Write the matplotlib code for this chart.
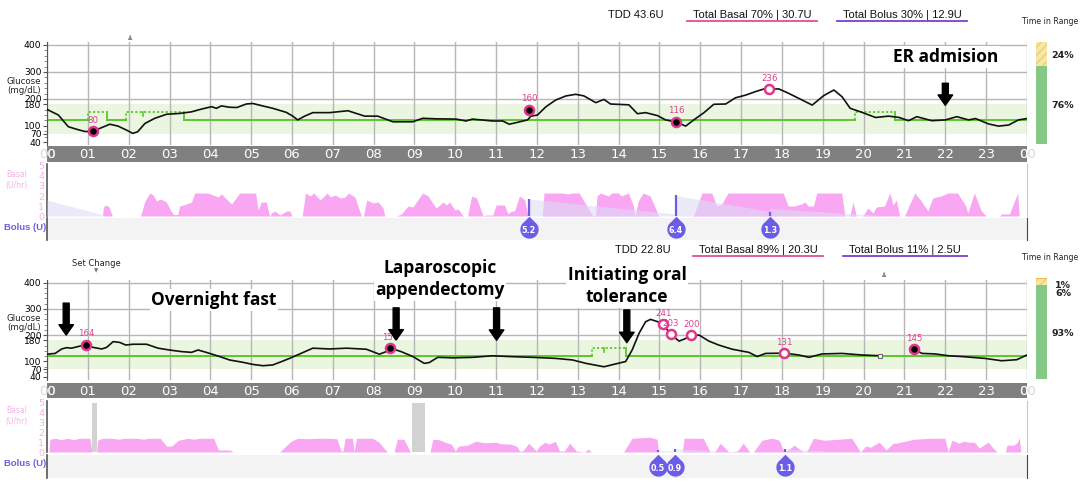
import numpy as np
import matplotlib.pyplot as plt
from matplotlib.path import Path
from matplotlib.lines import Line2D

# ---------------- data: day 1 (top) ----------------
day1_hours = [0.0, 0.28, 0.52, 0.73, 0.93, 1.13, 1.3, 1.54, 1.74, 1.95, 2.1, 2.22, 2.4, 2.64, 2.93,
              3.25, 3.54, 3.78, 4.03, 4.15, 4.27, 4.47, 4.65, 4.88, 5.04, 5.28, 5.53, 5.86, 6.02,
              6.14, 6.31, 6.51, 6.92, 7.37, 7.78, 8.1, 8.47, 8.96, 9.2, 9.53, 10.02, 10.26, 10.42,
              10.91, 11.16, 11.32, 11.52, 11.77, 11.85, 12.01, 12.22, 12.46, 12.71, 12.95, 13.15,
              13.44, 13.64, 13.8, 14.25, 14.46, 14.66, 14.95, 15.15, 15.41, 15.64, 15.84, 16.09,
              16.33, 16.62, 16.86, 17.11, 17.35, 17.56, 17.69, 17.92, 18.13, 18.41, 18.74, 19.02,
              19.27, 19.47, 19.67, 19.96, 20.29, 20.61, 20.87, 21.1, 21.3, 21.67, 22.0, 22.28,
              22.57, 22.74, 23.06, 23.3, 23.55, 23.79, 24.0]
day1_glucose = [161, 140, 97, 87, 79, 79, 91, 106, 99, 84, 72, 78, 109, 128, 143,
                146, 152, 162, 171, 165, 174, 169, 168, 181, 183, 174, 165, 150, 136,
                122, 136, 149, 149, 156, 136, 136, 115, 115, 128, 126, 125, 118, 125,
                118, 118, 106, 113, 122, 136, 140, 171, 196, 211, 217, 211,
                186, 198, 181, 178, 145, 149, 138, 122, 114, 99, 122, 149,
                180, 181, 204, 214, 227, 237, 236, 237, 223, 202, 177, 212,
                233, 208, 165, 150, 131, 136, 131, 119, 134, 119, 122, 134,
                122, 127, 107, 99, 103, 122, 127]
day1_readings = [(1.13, 80, True), (11.8, 160, True), (15.41, 116, True), (17.69, 236, False)]
day1_temp_target = [(1.0, 1.47), (1.93, 3.35), (19.78, 20.76)]
day1_target_ticks = [2.35]

day1_basal_h = [0, 1.36, 1.38, 1.45, 1.52, 1.6, 2.29, 2.4, 2.52, 2.6, 2.68, 2.78, 2.92, 3.05, 3.1,
                3.2, 3.25, 3.42, 3.54, 3.62, 3.94, 4.07, 4.19, 4.27, 4.52, 4.72, 5.11, 5.17, 5.25,
                5.37, 5.45, 5.5, 5.58, 5.7, 5.87, 5.95, 6.0, 6.25, 6.33, 6.45, 6.53, 6.69, 6.86,
                6.94, 7.06, 7.18, 7.3, 7.38, 7.54, 7.7, 7.75, 7.83, 7.99, 8.11, 8.23, 8.27, 8.56,
                8.68, 8.84, 8.96, 9.2, 9.33, 9.53, 9.7, 9.78, 9.86, 9.99, 10.07, 10.19, 10.3,
                10.4, 10.52, 10.68, 10.76, 10.92, 11.0, 11.2, 11.29, 11.37, 11.45, 11.57, 11.7,
                11.78, 12.13, 12.17, 12.62, 12.75, 12.86, 13.03, 13.35, 13.43, 13.47, 13.55,
                13.75, 13.83, 13.99, 14.07, 14.24, 14.36, 14.4, 14.48, 14.6, 14.77, 14.93, 14.97,
                15.83, 16.04, 16.28, 16.4, 16.52, 16.68, 18.03, 18.15, 18.31, 18.48, 18.56, 18.64,
                18.77, 18.85, 19.46, 19.54, 19.66, 19.74, 19.82, 19.98, 20.1, 20.23, 20.31, 20.51,
                20.64, 20.72, 20.8, 20.88, 21.0, 21.25, 21.41, 21.57, 21.69, 21.9, 22.06, 22.3,
                22.5, 22.55, 22.71, 22.88, 23.0, 23.33, 23.37, 23.57, 23.77, 23.81, 24]
day1_basal_u = [0, 0, 0.9, 1.1, 0.9, 0, 0, 1.5, 2.3, 2.1, 1.5, 1.7, 1.4, 0.4, 0.15,
                0.15, 1.0, 1.2, 1.4, 2.3, 2.3, 2.1, 1.9, 2.2, 1.2, 2.3, 2.3, 0.6, 1.4,
                1.4, 0, 0.3, 0.5, 0.1, 0.5, 0.5, 0, 0, 2.3, 2.0, 2.3, 1.6, 2.3,
                1.9, 2.1, 1.8, 1.9, 2.3, 1.9, 0, 0, 1.6, 1.3, 1.4, 0.8, 0, 0,
                0.2, 1.0, 0.9, 2.3, 2.0, 0.8, 1.4, 1.1, 1.4, 0.6, 0.7, 0, 0,
                2.0, 1.8, 0, 0.1, 0.1, 1.1, 1.1, 0.2, 0.5, 0.5, 2.0, 1.6,
                0, 0, 2.3, 2.3, 2.2, 2.3, 2.3, 0.1, 0, 2.0, 2.3,
                2.0, 2.3, 2.3, 2.0, 2.3, 1.0, 0, 1.5, 2.3, 2.0, 0.5, 0,
                0, 2.3, 2.3, 1.0, 1.2, 2.3, 2.3, 1.0, 1.0, 1.2, 1.4, 1.0,
                1.0, 2.3, 2.3, 0, 0, 1.4, 0, 0, 0.8, 0.3, 0.9, 1.0,
                2.3, 1.1, 1.6, 0, 0, 2.3, 1.5, 0.5, 1.8, 2.0, 2.3, 2.3,
                1.0, 0.3, 2.3, 0.5, 0, 0, 0.2, 0.2, 2.3, 0, 0]
day1_iob_h = [0, 1.38, 1.38, 11.8, 11.8, 15.4, 15.4, 17.7, 17.7, 20.6, 24]
day1_iob_u = [1.6, 0.1, 0, 0, 1.7, 0.2, 2.05, 0.45, 0.75, 0, 0]
day1_bolus_h = [11.8, 15.4, 17.7]
day1_bolus_u = [5.2, 6.4, 1.3]
day1_bolus_line = [1.7, 2.05, 0.42]
day1_tir = [(76, '#86c886', None), (24, '#f7e7a6', '////')]
day1_tir_labels = [('24%', 56), ('76%', 105)]
day1_header = ['TDD 43.6U', 'Total Basal 70% | 30.7U', 'Total Bolus 30% | 12.9U']

# ---------------- data: day 2 (bottom) ----------------
day2_hours = [0.0, 0.2, 0.36, 0.48, 0.6, 0.81, 0.95, 1.13, 1.34, 1.46, 1.62, 1.78, 1.93, 2.1, 2.44,
              2.72, 3.0, 3.29, 3.54, 3.7, 3.9, 4.23, 4.47, 4.8, 5.04, 5.29, 5.53, 5.78, 5.94,
              6.19, 6.51, 6.92, 7.33, 7.82, 8.14, 8.31, 8.41, 8.67, 8.96, 9.24, 9.36, 9.57,
              9.94, 10.42, 10.91, 11.32, 11.89, 12.46, 12.87, 13.2, 13.64, 13.93, 14.17, 14.33,
              14.5, 14.66, 14.78, 14.96, 15.09, 15.27, 15.48, 15.64, 15.78, 15.97, 16.21,
              16.45, 16.78, 17.19, 17.39, 17.6, 18.06, 18.41, 18.66, 18.98, 19.47, 19.96, 20.41,
              20.8, 21.24, 21.43, 21.75, 22.08, 22.41, 22.97, 23.38, 23.75, 24.0]
day2_glucose = [127, 130, 147, 152, 150, 158, 162, 153, 147, 153, 175, 172, 162, 165, 165,
                150, 143, 137, 134, 143, 134, 118, 105, 96, 88, 83, 86, 101, 111,
                128, 150, 147, 150, 146, 127, 137, 150, 137, 118, 92, 95, 115,
                113, 115, 121, 118, 115, 111, 105, 92, 79, 90, 99, 143,
                207, 251, 260, 251, 241, 203, 177, 187, 200, 200, 177,
                162, 146, 134, 118, 130, 131, 124, 115, 128, 130, 124, 121,
                np.nan, 145, 130, 128, 121, 118, 111, 102, 106, 124]
day2_readings = [(0.95, 164, True), (8.41, 150, True), (15.09, 241, False), (15.27, 203, False),
                 (15.78, 200, False), (18.06, 131, False), (21.24, 145, True)]
day2_temp_target = [(13.35, 14.18)]
day2_target_ticks = [13.64]

day2_basal_h = [0, 0.05, 0.07, 0.2, 0.35, 0.5, 0.65, 0.8, 1.05, 1.1, 1.22, 1.24, 1.35, 1.6, 1.75,
                1.9, 2.2, 2.35, 2.5, 2.77, 2.93, 3.05, 3.22, 3.34, 3.45, 3.6, 3.75, 4.08, 4.2,
                4.48, 4.56, 5.7, 5.95, 6.03, 6.15, 6.4, 6.6, 6.9, 7.1, 7.2, 7.25, 7.3, 7.48,
                7.52, 7.58, 7.97, 8.13, 8.33, 8.5, 8.58, 8.74, 8.9, 9.38, 9.45, 9.6, 9.75, 9.9,
                10.0, 10.08, 10.3, 10.5, 10.7, 10.85, 11.0, 11.1, 11.35, 11.5, 11.57, 11.65,
                11.8, 11.98, 12.06, 12.2, 12.3, 12.45, 12.55, 12.67, 12.8, 12.96, 13.16, 13.25,
                13.33, 14.12, 14.33, 14.76, 14.94, 14.97, 15.56, 15.6, 16.07, 16.24, 16.35,
                16.49, 16.7, 16.91, 17.05, 17.21, 17.3, 17.51, 17.76, 17.93, 18.05, 18.14, 18.3,
                18.52, 18.6, 18.77, 19.03, 19.4, 19.71, 19.92, 20.05, 20.17, 20.38, 20.55, 20.72,
                20.8, 21.23, 21.65, 21.99, 22.07, 22.16, 22.33, 22.45, 22.58, 22.71, 22.83, 23.05,
                23.17, 23.26, 23.47, 23.51, 23.68, 23.77, 23.81, 23.85, 24]
day2_basal_u = [0, 0, 1.3, 1.4, 1.25, 1.4, 1.25, 1.4, 1.4, 0, 0, 1.2, 1.4, 1.4, 1.3,
                1.4, 1.4, 1.3, 1.4, 1.4, 0.6, 0.6, 1.2, 1.3, 1.4, 1.3, 1.4, 1.4, 0.2,
                0.2, 0, 0, 1.0, 1.2, 1.4, 1.35, 1.4, 1.4, 1.35, 0.1, 0.1, 1.4, 1.4,
                0, 1.4, 1.4, 1.0, 0, 0, 1.3, 1.3, 0, 0, 1.3, 1.25, 1.0, 0.8,
                0.1, 0.6, 0.7, 1.1, 0.95, 0.95, 1.0, 0.85, 0.8, 0.6, 0.1, 0.1,
                0.9, 0.1, 0.6, 1.0, 0.8, 1.1, 0.1, 0.1, 0.9, 0.1, 0, 0.3,
                0, 0, 1.4, 1.5, 1.3, 0, 0, 1.4, 1.4, 0, 0,
                0.9, 0, 0.1, 0.9, 0, 0, 1.2, 1.4, 1.2, 0, 0.2, 0.7,
                0, 0, 1.4, 1.2, 1.3, 1.4, 0, 0.6, 0.5, 1.0, 0.2, 0.9,
                0.9, 1.3, 1.4, 1.4, 0, 1.2, 0.9, 1.1, 1.0, 1.0, 0.4, 1.0,
                0.4, 0, 0, 0.7, 0.7, 1.0, 1.5, 0, 0]
day2_site_changes = [(1.1, 1.22), (8.95, 9.25)]
day2_iob_h = [0, 14.96, 14.96, 15.38, 15.38, 17.0, 18.07, 18.07, 19.6, 24]
day2_iob_u = [0, 0, 0.18, 0.12, 0.32, 0, 0, 0.3, 0, 0]
day2_bolus_h = [14.96, 15.38, 18.07]
day2_bolus_u = [0.5, 0.9, 1.1]
day2_bolus_line = [0.18, 0.3, 0.35]
day2_tir = [(93, '#86c886', None), (6, '#f7e7a6', '////'), (1, '#f2b84a', None)]
day2_tir_labels = [('1%', 285), ('6%', 293), ('93%', 334)]
day2_header = ['TDD 22.8U', 'Total Basal 89% | 20.3U', 'Total Bolus 11% | 2.5U']

hour_labels = ['%02d' % (h % 24) for h in range(25)]
glucose_ticks = [40, 70, 100, 180, 200, 300, 400]

# ---------------- style ----------------
PINK = '#f9a6f3'
IOB = '#dedcf6'
BAND = '#ebf6e1'
TGREEN = '#5cc72c'
GRID = '#b7b7b7'
BAR = '#808080'
PURPLE = '#6b5de6'
RING = '#e0358d'
RING_TXT = '#d8428f'
TARGET, TEMP = 120, 150
ANN_FONT = dict(family='Open Sans', weight='bold', fontsize=12.5, color='black')

W, H = 1084, 482
fig = plt.figure(figsize=(W / 100, H / 100), dpi=100)


def px_axes(x0, y0, x1, y1):
    return fig.add_axes([x0 / W, 1 - y1 / H, (x1 - x0) / W, (y1 - y0) / H])


def px_text(x, y, s, **kw):
    return fig.text(x / W, 1 - y / H, s, **kw)


# teardrop marker for the bolus bubbles (tip pointing up)
t = np.linspace(np.radians(55), np.radians(-235), 40)
drop = Path(np.vstack([[0, 1.4], np.column_stack([np.cos(t), np.sin(t)]), [0, 1.4]]), closed=True)


def glucose_panel(ax, hrs, glu, readings, temp_segs, ticks):
    ax.set_xlim(0, 24)
    ax.set_ylim(30, 410)
    ax.axhspan(70, 180, color=BAND, lw=0, zorder=0)
    for h in range(25):
        ax.axvline(h, color=GRID, lw=1, zorder=1)
    for g in (200, 300, 400):
        ax.axhline(g, color=GRID, lw=1, zorder=1)
    prev = 0.0
    for a, b in temp_segs:
        ax.plot([prev, a], [TARGET, TARGET], color=TGREEN, lw=1.4, zorder=2)
        ax.plot([a, a, b], [TARGET, TEMP, TEMP], color=TGREEN, lw=1.3, ls=(0, (1.2, 1.2)), zorder=2)
        ax.plot([b, b], [TEMP, TARGET], color=TGREEN, lw=1.3, zorder=2)
        prev = b
    ax.plot([prev, 24], [TARGET, TARGET], color=TGREEN, lw=1.4, zorder=2)
    for k in ticks:
        ax.plot([k, k], [TEMP, TEMP - 14], color=TGREEN, lw=1.2, zorder=2)
    ax.plot(hrs, glu, color='#111111', lw=1.2, zorder=4)
    for h, v, filled in readings:
        ax.plot(h, v, 'o', ms=6.5, mfc='black' if filled else 'white', mec=RING, mew=1.8, zorder=5)
        ax.annotate(str(v), (h, v), xytext=(0, 4.5), textcoords='offset points', ha='center',
                    va='bottom', fontsize=6.2, color=RING_TXT, zorder=5)
    ax.set_xticks([])
    ax.set_yticks(glucose_ticks)
    ax.set_yticks(np.arange(40, 401, 20), minor=True)
    ax.tick_params(axis='y', which='major', length=3, labelsize=6.6, pad=1, color='#555555')
    ax.tick_params(axis='y', which='minor', length=2, color='#777777')
    for s in ('top', 'right', 'bottom'):
        ax.spines[s].set_visible(False)
    ax.spines['left'].set_color('#555555')
    ax.patch.set_alpha(0)


def hour_bar(ax):
    ax.set_xlim(0, 24)
    ax.set_ylim(0, 1)
    ax.set_facecolor(BAR)
    ax.set_xticks([])
    ax.set_yticks([])
    for s in ax.spines.values():
        s.set_visible(False)
    for h, lab in enumerate(hour_labels):
        if h in (0, 24):
            ax.text(h, 0.45, lab, color='#d8d8d8', ha='center', va='center', fontsize=9.5, clip_on=False)
        ax.text(h, 0.45, lab, color='white', ha='center', va='center', fontsize=9.5, clip_on=True)


def basal_panel(ax, bh, bu, iob_h, iob_u, bolus_h, bolus_line, sites=()):
    ax.set_xlim(0, 24)
    ax.set_ylim(0, 5.2)
    for a, b in sites:
        ax.axvspan(a, b, ymax=5 / 5.2, color='#d2d2d2', lw=0, zorder=1)
    ax.fill_between(bh, bu, color=PINK, lw=0, zorder=2)
    ax.fill_between(iob_h, iob_u, color=IOB, alpha=0.6, lw=0, zorder=3)
    ax.vlines(bolus_h, 0, bolus_line, color=PURPLE, lw=1.6, zorder=4)
    ax.set_xticks([])
    ax.set_yticks(range(6))
    ax.tick_params(axis='y', length=0, labelsize=6.8, labelcolor='#f2b3e8', pad=2)
    for s in ('top', 'bottom'):
        ax.spines[s].set_visible(False)
    ax.spines['left'].set_color('#555555')
    ax.spines['left'].set_linewidth(1.2)
    ax.spines['right'].set_color('#c8c8c8')


def bolus_row(ax, bolus_h, bolus_u):
    ax.set_xlim(0, 24)
    ax.set_ylim(0, 1)
    ax.set_facecolor('#f3f3f3')
    ax.set_xticks([])
    ax.set_yticks([])
    for s in ('top', 'bottom'):
        ax.spines[s].set_visible(False)
    ax.spines['left'].set_color('#555555')
    ax.spines['left'].set_linewidth(1.2)
    ax.spines['right'].set_color('#444444')
    ax.scatter(bolus_h, [0.5] * len(bolus_h), marker=drop, s=340, color=PURPLE, lw=0, zorder=3,
               clip_on=False)
    for h, u in zip(bolus_h, bolus_u):
        ax.text(h, 0.42, str(u), color='white', fontsize=5.8, weight='bold', ha='center', va='center',
                zorder=4)


def tir_bar(ax, parts):
    bottom = 0
    for pct, col, hatch in parts:
        ax.bar(0, pct, bottom=bottom, width=1, color=col, hatch=hatch,
               edgecolor='#e8cf7a' if hatch else col, lw=0)
        bottom += pct
    ax.set_xlim(-0.5, 0.5)
    ax.set_ylim(0, 100)
    ax.axis('off')


def header(y, items, xs, ulines):
    for s, x in zip(items, xs):
        px_text(x, y, s, ha='center', va='center', fontsize=8, family='Liberation Sans', color='#111111')
    for (x0, x1), col in ulines:
        fig.add_artist(Line2D([x0 / W, x1 / W], [1 - (y + 6) / H] * 2, color=col, lw=1.3,
                              transform=fig.transFigure))


def down_arrow(ax, h, v0, v1):
    ax.annotate('', xy=(h, v1), xytext=(h, v0), annotation_clip=False, zorder=8,
                arrowprops=dict(facecolor='black', edgecolor='black', width=4.3, headwidth=10.5,
                                headlength=7.5, shrink=0))


# ---------------- day 1 ----------------
g1 = px_axes(47, 42.3, 1027, 144.7)
glucose_panel(g1, day1_hours, day1_glucose, day1_readings, day1_temp_target, day1_target_ticks)
hour_bar(px_axes(47, 146, 1027, 162))
basal_panel(px_axes(47, 164, 1027, 216), day1_basal_h, day1_basal_u, day1_iob_h, day1_iob_u,
            day1_bolus_h, day1_bolus_line)
bolus_row(px_axes(47, 218, 1027, 240), day1_bolus_h, day1_bolus_u)
tir_bar(px_axes(1036, 42, 1047, 144), day1_tir)
down_arrow(g1, 22.0, 258, 176)

# ---------------- day 2 ----------------
g2 = px_axes(47, 280.1, 1027, 379.6)
glucose_panel(g2, day2_hours, day2_glucose, day2_readings, day2_temp_target, day2_target_ticks)
g2.plot(20.41, 121, 's', ms=3, mfc='white', mec='#666666', mew=0.8, zorder=5)
hour_bar(px_axes(47, 383, 1027, 398))
basal_panel(px_axes(47, 401, 1027, 452), day2_basal_h, day2_basal_u, day2_iob_h, day2_iob_u,
            day2_bolus_h, day2_bolus_line, day2_site_changes)
bolus_row(px_axes(47, 455, 1027, 478), day2_bolus_h, day2_bolus_u)
tir_bar(px_axes(1036, 278, 1047, 379), day2_tir)
down_arrow(g2, 0.47, 322, 200)
down_arrow(g2, 8.55, 304, 181)
down_arrow(g2, 11.01, 304, 180)
down_arrow(g2, 14.2, 296, 171)

# ---------------- texts ----------------
header(14.5, day1_header, [636, 752, 902], [((687, 817), '#e04f96'), ((837, 967), '#7a3fd0')])
header(250, day2_header, [643, 758, 905], [((693, 823), '#e04f96'), ((843, 967), '#7a3fd0')])

for y in (21, 258):
    px_text(1050, y, 'Time in Range', ha='center', va='center', fontsize=5.6, color='#222222')
for lab, y in day1_tir_labels + day2_tir_labels:
    px_text(1063, y, lab, ha='center', va='center', fontsize=6.8, weight='bold', color='#222222')

for y in (86, 323):
    px_text(41, y, 'Glucose\n(mg/dL)', ha='right', va='center', fontsize=6.2, color='#222222',
            linespacing=1.05)
for y in (180, 416):
    px_text(17, y, 'Basal\n(U/hr)', ha='center', va='center', fontsize=5.5, color='#f2b3e8',
            linespacing=1.2)
for y in (228, 463):
    px_text(4, y, 'Bolus (U)', ha='left', va='center', fontsize=6.8, weight='bold',
            family='Liberation Sans', color='#6f5fd6')

px_text(96, 264, 'Set Change', ha='center', va='center', fontsize=6, color='#222222')
px_text(96, 271, '\u25bc', ha='center', va='center', fontsize=4, color='#777777')
px_text(130, 38, '\u265f', ha='center', va='center', fontsize=5, color='#888888')
px_text(884, 275, '\u265f', ha='center', va='center', fontsize=5, color='#888888')

box = dict(facecolor='white', edgecolor='none', boxstyle='square,pad=0.1')
px_text(946, 57, 'ER admision', ha='center', va='center', bbox=box, **ANN_FONT)
px_text(214, 300, 'Overnight fast', ha='center', va='center', bbox=box, **ANN_FONT)
px_text(440, 279, 'Laparoscopic\nappendectomy', ha='center', va='center', linespacing=1.3,
        bbox=box, **ANN_FONT)
px_text(627, 286, 'Initiating oral\ntolerance', ha='center', va='center', linespacing=1.3,
        bbox=box, **ANN_FONT)

fig.savefig('out.png', dpi=100)
